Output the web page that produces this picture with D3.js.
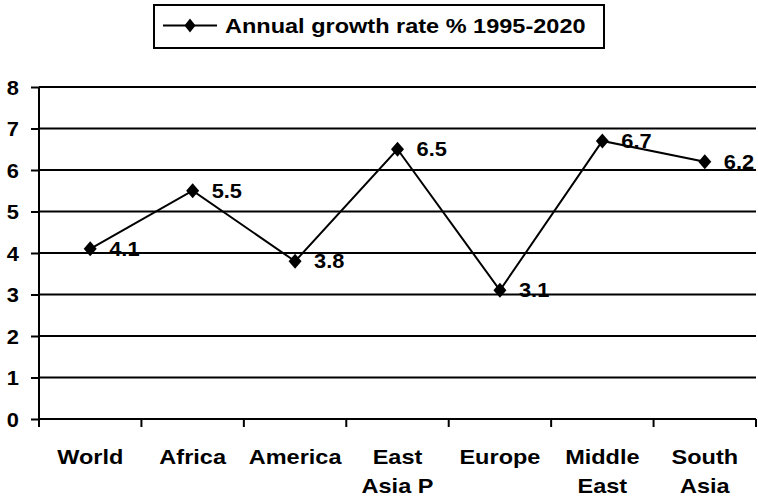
<!DOCTYPE html>
<html>
<head>
<meta charset="utf-8">
<script src="https://cdn.jsdelivr.net/npm/d3@7"></script>
<style>
  html, body { margin: 0; padding: 0; background: #fff; }
  svg { display: block; font-family: "Liberation Sans", Arial, sans-serif; font-weight: bold; }
</style>
</head>
<body>
<svg id="chart" width="758" height="500"></svg>
<script>
// Regions and their annual growth rate (%), 1995-2020
const categories = ["World", "Africa", "America", "East Asia P", "Europe", "Middle East", "South Asia"];
const categoryLines = [["World"], ["Africa"], ["America"], ["East", "Asia P"], ["Europe"], ["Middle", "East"], ["South", "Asia"]];
const growthRates = [4.1, 5.5, 3.8, 6.5, 3.1, 6.7, 6.2];
const yTicks = [0, 1, 2, 3, 4, 5, 6, 7, 8];
const seriesName = "Annual growth rate % 1995-2020";

const svg = d3.select("#chart");
const plotLeft = 39, plotRight = 756, plotTop = 87, plotBottom = 419;
const stretch = 1.12; // wide glyph aspect used for all labels

const x = d3.scaleBand().domain(categories).range([plotLeft, plotRight]);
const y = d3.scaleLinear().domain([0, 8]).range([plotBottom, plotTop]);

// Place a text at (px, py) with horizontally widened glyphs
function placeText(sel, px, py) {
  sel.attr("x", 0).attr("y", 0)
    .attr("transform", (d, i) => `translate(${px(d, i)},${py(d, i)}) scale(${stretch},1)`);
}

// Diamond marker path with given half-width and half-height
const diamondPath = (hw, hh) => `M0,${-hh}L${hw},0L0,${hh}L${-hw},0Z`;

// Horizontal gridlines
svg.append("g").selectAll("line").data(yTicks).join("line")
  .attr("x1", plotLeft).attr("x2", plotRight)
  .attr("y1", d => y(d)).attr("y2", d => y(d))
  .attr("stroke", "#000").attr("stroke-width", 2);

// Y axis
const yAxis = svg.append("g").attr("transform", `translate(${plotLeft},0)`)
  .call(d3.axisLeft(y).tickValues(yTicks).tickSize(8).tickPadding(12).tickFormat(d3.format("d")));
yAxis.select(".domain").attr("stroke", "#000").attr("stroke-width", 2).attr("d", `M0,${plotTop}V${plotBottom}`);
yAxis.selectAll(".tick line").attr("stroke", "#000").attr("stroke-width", 2);
yAxis.selectAll(".tick text")
  .attr("font-size", 19.5).attr("font-weight", "bold").attr("fill", "#000")
  .attr("font-family", "Liberation Sans, Arial, sans-serif")
  .attr("dy", "0.36em")
  .attr("x", 0)
  .attr("transform", `translate(-20,0) scale(${stretch},1)`);

// X axis: ticks at band boundaries
const boundaries = categories.map(c => x(c)).concat([plotRight]);
const xg = svg.append("g");
xg.append("line").attr("x1", plotLeft).attr("x2", plotRight).attr("y1", plotBottom).attr("y2", plotBottom)
  .attr("stroke", "#000").attr("stroke-width", 2);
xg.selectAll("line.tk").data(boundaries).join("line").attr("class", "tk")
  .attr("x1", d => d).attr("x2", d => d).attr("y1", plotBottom).attr("y2", plotBottom + 8)
  .attr("stroke", "#000").attr("stroke-width", 2);

// Category labels (wrapped)
const cx = d => x(d) + x.bandwidth() / 2;
const lab = svg.append("g").selectAll("text").data(categories).join("text")
  .attr("text-anchor", "middle").attr("font-size", 21).attr("fill", "#000");
placeText(lab, d => cx(d), () => 464);
lab.each(function(d, i) {
  d3.select(this).selectAll("tspan").data(categoryLines[i]).join("tspan")
    .attr("x", 0)
    .attr("dy", (t, j) => j === 0 ? 0 : 29.5)
    .text(t => t);
});

// Series line
const line = d3.line().x((v, i) => cx(categories[i])).y(v => y(v));
svg.append("path").datum(growthRates).attr("d", line)
  .attr("fill", "none").attr("stroke", "#000").attr("stroke-width", 2);

// Diamond markers
svg.append("g").selectAll("path").data(growthRates).join("path")
  .attr("d", diamondPath(6.5, 7.5))
  .attr("transform", (v, i) => `translate(${cx(categories[i])},${y(v)})`)
  .attr("fill", "#000");

// Value labels
const vals = svg.append("g").selectAll("text").data(growthRates).join("text")
  .attr("dy", "0.36em")
  .attr("font-size", 19.5).attr("fill", "#000")
  .text(v => d3.format(".1f")(v));
placeText(vals, (v, i) => cx(categories[i]) + 19, v => y(v));

// Legend
const lg = svg.append("g");
lg.append("rect").attr("x", 154).attr("y", 5).attr("width", 450).attr("height", 43)
  .attr("fill", "#fff").attr("stroke", "#000").attr("stroke-width", 2);
lg.append("line").attr("x1", 163).attr("x2", 217).attr("y1", 25.5).attr("y2", 25.5)
  .attr("stroke", "#000").attr("stroke-width", 2);
lg.append("path").attr("d", diamondPath(5.5, 7)).attr("transform", "translate(190,25.5)").attr("fill", "#000");
const lt = lg.append("text").datum(seriesName).attr("dy", "0.36em")
  .attr("font-size", 21).attr("fill", "#000").text(d => d);
placeText(lt, () => 225, () => 25.5);
</script>
</body>
</html>
